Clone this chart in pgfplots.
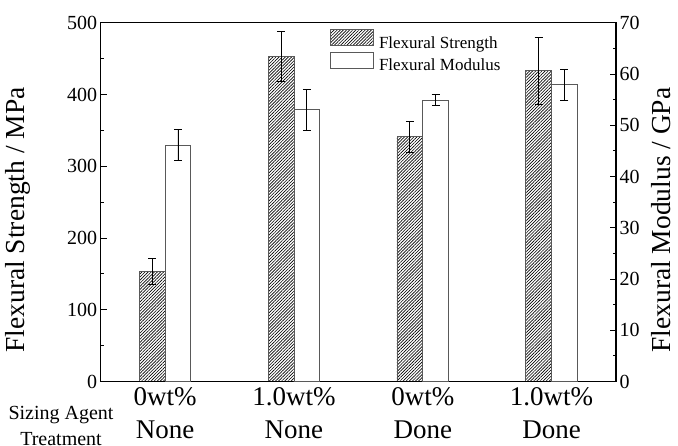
\documentclass[border=0pt]{standalone}
\usepackage{pgfplots}
\pgfplotsset{compat=1.18}
\usetikzlibrary{patterns.meta}
\usepackage{fontspec}
\setmainfont{Liberation Serif}
\definecolor{bordergray}{gray}{0.35}

\pgfplotsset{
  mybase/.style={
    scale only axis, width=515.3pt, height=358.8pt,
    xmin=-0.5, xmax=3.5,
    ybar, bar width=0.2,
    /pgf/number format/assume math mode=true,
    tick label style={font=\fontsize{20}{24}\selectfont},
    label style={font=\fontsize{27.5}{32}\selectfont},
    axis line style={line width=1.1pt},
    tick style={line width=0.8pt, black},
    tick align=inside,
    major tick length=6pt, minor tick length=3.3pt,
    xtick style={draw=none},
  }
}

\begin{document}
\begin{tikzpicture}
\begin{axis}[mybase,
  ymin=0, ymax=500, ytick={0,100,...,500}, minor y tick num=1,
  ytick pos=left,
  xtick={0,1,2,3},
  xticklabels={{0wt\%\\None},{1.0wt\%\\None},{0wt\%\\Done},{1.0wt\%\\Done}},
  xticklabel style={font=\fontsize{27}{33}\selectfont, align=center, yshift=-3pt},
  ylabel={Flexural Strength / MPa},
  ylabel style={at={(axis description cs:-0.1605,0.45)}, anchor=center},
]
\addplot[bar shift=-0.1, draw=bordergray, line width=0.8pt,
  pattern={Lines[angle=45,distance=2.2pt,line width=0.65pt]},
  error bars/y dir=both, error bars/y explicit,
  error bars/error bar style={black, line width=0.8pt},
  error bars/error mark options={rotate=90, mark size=4pt, black, line width=0.8pt}]
 coordinates {(0,153) +- (0,18) (1,453) +- (0,35) (2,341) +- (0,22) (3,433) +- (0,47)};
\end{axis}
\begin{axis}[mybase,
  ymin=0, ymax=70, ytick={0,10,...,70}, minor y tick num=1,
  ytick pos=right, xtick=\empty,
  ylabel={Flexural Modulus / GPa},
  ylabel style={at={(axis description cs:1.0873,0.45)}, anchor=center},
  legend image code/.code={\draw[#1] (0pt,-2.5pt) rectangle (43pt,13.5pt);},
  legend style={at={(axis description cs:0.445,0.9824)}, anchor=north west,
    draw=none, fill=none, inner sep=0pt, row sep=2pt,
    font=\fontsize{17}{20}\selectfont,
    nodes={inner sep=0pt}},
  legend cell align=left,
]
\addplot[bar shift=0.1, draw=bordergray, line width=0.8pt, fill=white,
  error bars/y dir=both, error bars/y explicit,
  error bars/error bar style={black, line width=0.8pt},
  error bars/error mark options={rotate=90, mark size=4pt, black, line width=0.8pt}, forget plot]
 coordinates {(0,46.1) +- (0,3) (1,53) +- (0,4) (2,54.9) +- (0,1.1) (3,57.9) +- (0,3)};
\addlegendimage{draw=bordergray, line width=0.8pt, pattern={Lines[angle=45,distance=2.2pt,line width=0.65pt]}}
\addlegendentry{\hspace{5pt}Flexural Strength}
\addlegendimage{draw=bordergray, line width=0.8pt, fill=white}
\addlegendentry{\hspace{5pt}Flexural Modulus}
\end{axis}
\node[font=\fontsize{20}{26}\selectfont, align=center, anchor=north] at (-39.7pt,-21pt) {Sizing Agent\\Treatment};
\pgfresetboundingbox
\path (-100.7pt,-63.5pt) rectangle (577.3pt,381.5pt);
\end{tikzpicture}
\end{document}
